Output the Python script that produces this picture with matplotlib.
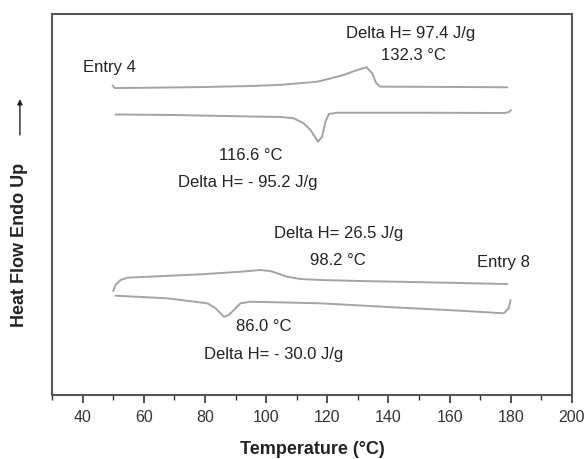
import matplotlib
matplotlib.use("Agg")
import matplotlib.pyplot as plt
from matplotlib.ticker import MultipleLocator

plt.rcParams['font.family'] = ['Liberation Sans', 'DejaVu Sans']

# DSC traces, heat flow in arbitrary units (curves are offset)
e4_heat_t = [49.8, 50.5, 60, 80, 95, 105, 116.7, 121, 125.3, 129.8, 132.8,
             134.7, 136, 137.4, 150, 165, 178.8]
e4_heat_hf = [30.95, 30.7, 30.72, 30.8, 30.9, 31.02, 31.33, 31.65, 32.0, 32.5,
              32.77, 32.17, 31.17, 30.83, 30.82, 30.8, 30.77]

e4_cool_t = [50.8, 70, 95, 105, 109, 112.3, 114.5, 117, 118.3, 119.4, 120.5,
             123.2, 150, 178, 179.5, 180]
e4_cool_hf = [28.05, 28.0, 27.85, 27.8, 27.67, 27.17, 26.5, 25.33, 25.83, 27.33,
              28.1, 28.23, 28.23, 28.2, 28.3, 28.5]

e8_heat_t = [50, 50.8, 52.4, 54.6, 78.6, 91.6, 98.2, 101.4, 106.9, 111.2, 117.8,
             130.8, 152.6, 178.8]
e8_heat_hf = [10.4, 11.0, 11.5, 11.73, 12.07, 12.33, 12.5, 12.4, 11.83, 11.6,
              11.5, 11.4, 11.27, 11.1]

e8_cool_t = [50.8, 67.7, 80.8, 83.5, 86.2, 87.8, 91.6, 94.9, 117.8, 141.7,
             163.5, 177.7, 179.3, 179.9]
e8_cool_hf = [9.93, 9.67, 9.17, 8.67, 7.83, 8.0, 9.17, 9.33, 9.17, 8.77, 8.43,
              8.17, 8.67, 9.5]

# annotations: (text, temp, heat flow, alignment)
labels = [
    ("Delta H= 97.4 J/g", 147.2, 36.2, "center"),
    ("132.3 °C", 148.2, 34.0, "center"),
    ("Entry 4", 40, 32.8, "left"),
    ("116.6 °C", 94.9, 24.0, "center"),
    ("Delta H= - 95.2 J/g", 93.9, 21.3, "center"),
    ("Delta H= 26.5 J/g", 123.7, 16.2, "center"),
    ("98.2 °C", 123.3, 13.5, "center"),
    ("Entry 8", 177.6, 13.3, "center"),
    ("86.0 °C", 99.2, 6.9, "center"),
    ("Delta H= - 30.0 J/g", 102.4, 4.1, "center"),
]

fig = plt.figure(figsize=(5.86, 4.59), dpi=100)
ax = fig.add_axes([0.0887, 0.1394, 0.8874, 0.8301])

curve_color = "#a3a3a3"
for t, hf in [(e4_heat_t, e4_heat_hf), (e4_cool_t, e4_cool_hf),
              (e8_heat_t, e8_heat_hf), (e8_cool_t, e8_cool_hf)]:
    ax.plot(t, hf, color=curve_color, lw=1.4, solid_joinstyle="round",
            solid_capstyle="round")

for txt, x, y, ha in labels:
    ax.text(x, y, txt, ha=ha, va="center", fontsize=12, color="#222222")

ax.set_xlim(30, 200)
ax.set_ylim(0, 38.1)
ax.xaxis.set_major_locator(MultipleLocator(20))
ax.xaxis.set_minor_locator(MultipleLocator(10))
ax.set_yticks([])
ax.tick_params(axis="x", which="major", direction="out", length=6, width=1.2,
               labelsize=11.5, colors="#333333", pad=5)
ax.tick_params(axis="x", which="minor", direction="out", length=3.5, width=1.0,
               colors="#333333")
for s in ax.spines.values():
    s.set_color("#555555")
    s.set_linewidth(1.5)

ax.set_xlabel("Temperature (°C)", fontsize=13, fontweight="bold", color="#222222",
              labelpad=11)

# y label with arrow pointing up
fig.text(0.034, 0.466, "Heat Flow Endo Up", rotation=90, ha="center", va="center",
         fontsize=13, fontweight="bold", color="#222222")
fig.patches.append(matplotlib.patches.FancyArrowPatch(
    (0.034, 0.70), (0.034, 0.79), transform=fig.transFigure,
    arrowstyle="-|>,head_length=3,head_width=1.5", color="#222222", lw=1.0))

plt.savefig("out.png", dpi=100)
